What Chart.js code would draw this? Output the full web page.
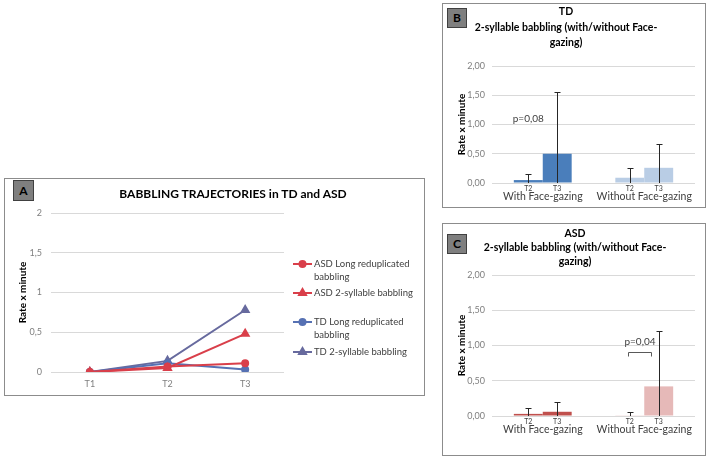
<!DOCTYPE html>
<html>
<head>
<meta charset="utf-8">
<script src="https://cdn.jsdelivr.net/npm/chart.js@4"></script>
<style>
  body { margin: 0; width: 708px; height: 461px; background: #fff; position: relative; overflow: hidden; font-family: Lato, sans-serif; }
  .panel { position: absolute; border: 1px solid #8c8c8c; box-sizing: border-box; }
  .tag { position: absolute; background: #7f7f7f; border: 1px solid #404040; box-sizing: border-box; color: #000;
         font: bold 12px Lato, sans-serif; text-align: center; }
  .title { position: absolute; text-align: center; font-weight: bold; color: #000; white-space: nowrap; }
  canvas { position: absolute; }
</style>
</head>
<body>
<div class="panel" style="left:4px;top:178px;width:421px;height:218px;"></div>
<div class="panel" style="left:442px;top:3px;width:264px;height:205px;"></div>
<div class="panel" style="left:442px;top:223px;width:264px;height:233px;"></div>

<canvas id="chartA" width="418" height="215" style="left:5px;top:179px;"></canvas>
<canvas id="chartB" width="261" height="202" style="left:443px;top:4px;"></canvas>
<canvas id="chartC" width="261" height="230" style="left:443px;top:224px;"></canvas>

<div class="tag" style="left:13px;top:180px;width:21px;height:21px;line-height:19px;">A</div>
<div class="tag" style="left:447px;top:8px;width:20px;height:20px;line-height:18px;">B</div>
<div class="tag" style="left:447px;top:234px;width:20px;height:20px;line-height:18px;">C</div>

<div class="title" style="left:33px;width:400px;top:186px;font-size:12px;line-height:16px;">BABBLING TRAJECTORIES in TD and ASD</div>
<div class="title" style="left:416px;width:300px;top:4px;font-size:10.5px;line-height:15.5px;">TD<br>2-syllable babbling (with/without Face-<br>gazing)</div>
<div class="title" style="left:425px;width:300px;top:226px;font-size:10.5px;line-height:14px;">ASD<br>2-syllable babbling (with/without Face-<br>gazing)</div>

<script>
// panel A: babbling trajectories
const timePoints = ['T1', 'T2', 'T3'];
const asdLongRedup = [0, 0.07, 0.11];
const asdTwoSyll = [0, 0.05, 0.48];
const tdLongRedup = [0, 0.11, 0.03];
const tdTwoSyll = [0, 0.14, 0.78];
const trajectoryNames = [
    'ASD Long reduplicated babbling',
    'ASD 2-syllable babbling',
    'TD Long reduplicated babbling',
    'TD 2-syllable babbling'
];
const yTicksA = ['0', '0,5', '1', '1,5', '2'];

// panels B and C: 2-syllable babbling with / without face-gazing
const gazeGroups = ['With Face-gazing', 'Without Face-gazing'];
const sessions = ['T2', 'T3'];
const tdT2 = [0.05, 0.09];
const tdT3 = [0.50, 0.26];
const tdT2Err = [0.10, 0.17];
const tdT3Err = [1.06, 0.40];
const asdT2 = [0.03, 0.01];
const asdT3 = [0.06, 0.42];
const asdT2Err = [0.09, 0.05];
const asdT3Err = [0.14, 0.78];
const yTicksBC = ['0,00', '0,50', '1,00', '1,50', '2,00'];

const gridColor = '#d9d9d9';
const tickColor = '#7f7f7f';
const textColor = '#404040';

// legend drawn by hand so the long labels can wrap like the original
const lineLegend = {
    id: 'lineLegend',
    afterDraw(chart, args, opts) {
        const ctx = chart.ctx;
        ctx.save();
        ctx.font = opts.font;
        ctx.textBaseline = 'middle';
        chart.data.datasets.forEach((ds, i) => {
            const y = opts.rows[i];
            ctx.strokeStyle = ds.borderColor;
            ctx.fillStyle = ds.borderColor;
            ctx.lineWidth = 2;
            ctx.beginPath();
            ctx.moveTo(opts.x, y);
            ctx.lineTo(opts.x + opts.lineLen, y);
            ctx.stroke();
            Chart.helpers.drawPoint(ctx, {
                pointStyle: ds.pointStyle, radius: ds.pointRadius, rotation: 0, borderWidth: 1
            }, opts.x + opts.lineLen / 2, y);

            // word wrap
            ctx.fillStyle = textColor;
            const words = ds.label.split(' ');
            let line = '';
            let ly = y;
            words.forEach(w => {
                const test = line ? line + ' ' + w : w;
                if (ctx.measureText(test).width > opts.maxWidth && line) {
                    ctx.fillText(line, opts.x + opts.lineLen + 2, ly);
                    line = w;
                    ly += opts.lineHeight;
                } else {
                    line = test;
                }
            });
            ctx.fillText(line, opts.x + opts.lineLen + 2, ly);
        });
        ctx.restore();
    }
};

// error bars, T2/T3 sub-labels and p-value notes for the bar panels
const barExtras = {
    id: 'barExtras',
    afterDatasetsDraw(chart, args, opts) {
        const ctx = chart.ctx;
        const y = chart.scales.y;
        const area = chart.chartArea;
        ctx.save();
        ctx.strokeStyle = '#262626';
        ctx.lineWidth = 1;
        chart.data.datasets.forEach((ds, di) => {
            const meta = chart.getDatasetMeta(di);
            meta.data.forEach((bar, i) => {
                const v = ds.data[i];
                const e = opts.errors[di][i];
                const top = Math.round(y.getPixelForValue(v + e)) + 0.5;
                const bot = y.getPixelForValue(Math.max(0, v - e));
                const x = Math.round(bar.x) + 0.5;
                ctx.beginPath();
                ctx.moveTo(x, bot);
                ctx.lineTo(x, top);
                ctx.moveTo(x - 3, top);
                ctx.lineTo(x + 3, top);
                ctx.stroke();

                ctx.fillStyle = textColor;
                ctx.font = '7px Lato, sans-serif';
                ctx.textAlign = 'center';
                ctx.textBaseline = 'middle';
                ctx.fillText(sessions[di], bar.x, area.bottom + opts.subOffset);
            });
        });

        const note = opts.note;
        if (note) {
            const b0 = chart.getDatasetMeta(0).data[note.group];
            const b1 = chart.getDatasetMeta(1).data[note.group];
            ctx.fillStyle = textColor;
            ctx.font = '10px Lato, sans-serif';
            ctx.textAlign = 'center';
            ctx.textBaseline = 'middle';
            let cx = b0.x;
            if (note.bracket !== undefined) {
                const x0 = Math.round(b0.x - 2) + 0.5;
                const x1 = Math.round(b1.x - 8) + 0.5;
                const by = Math.round(y.getPixelForValue(note.bracket)) + 0.5;
                ctx.strokeStyle = '#595959';
                ctx.beginPath();
                ctx.moveTo(x0, by + 4);
                ctx.lineTo(x0, by);
                ctx.lineTo(x1, by);
                ctx.lineTo(x1, by + 4);
                ctx.stroke();
                cx = (x0 + x1) / 2;
            }
            ctx.fillText(note.text, cx, y.getPixelForValue(note.value));
        }
        ctx.restore();
    }
};

const lineSeries = [
    { data: asdLongRedup, color: '#d93f4a', style: 'circle', r: 3 },
    { data: asdTwoSyll, color: '#d93f4a', style: 'triangle', r: 4 },
    { data: tdLongRedup, color: '#5671b3', style: 'circle', r: 3 },
    { data: tdTwoSyll, color: '#676a9e', style: 'triangle', r: 4 }
];

new Chart(document.getElementById('chartA'), {
    type: 'line',
    data: {
        labels: timePoints,
        datasets: lineSeries.map((s, i) => ({
            label: trajectoryNames[i],
            data: s.data,
            borderColor: s.color,
            backgroundColor: s.color,
            pointBackgroundColor: s.color,
            pointBorderColor: s.color,
            pointStyle: s.style,
            pointRadius: s.r,
            borderWidth: 2,
            tension: 0
        }))
    },
    options: {
        responsive: false,
        animation: false,
        layout: { padding: { left: 0, top: 34, right: 139, bottom: 0 } },
        plugins: {
            legend: { display: false },
            tooltip: { enabled: false },
            lineLegend: {
                x: 288, lineLen: 19, rows: [85, 114, 143, 173], lineHeight: 12.5,
                maxWidth: 100, font: '9.5px Lato, sans-serif'
            }
        },
        scales: {
            x: {
                offset: true,
                grid: { display: false, drawTicks: false },
                border: { display: false },
                ticks: { color: tickColor, font: { family: 'Lato', size: 9 }, padding: 7 },
                afterFit: s => { s.height = 22; }
            },
            y: {
                min: 0,
                max: 2,
                ticks: {
                    stepSize: 0.5,
                    color: tickColor,
                    font: { family: 'Lato', size: 9 },
                    padding: 9,
                    callback: (v, i) => yTicksA[i]
                },
                grid: { color: gridColor, drawTicks: false },
                border: { display: false },
                title: {
                    display: true, text: 'Rate x minute', color: '#000',
                    font: { family: 'Lato', size: 10, weight: 'bold' },
                    padding: { top: 12, bottom: 0 }
                },
                afterFit: s => { s.width = 46; }
            }
        }
    },
    plugins: [lineLegend]
});

function gazeChart(id, t2, t3, errs, darkColor, lightColor, padTop, xHeight, note) {
    return new Chart(document.getElementById(id), {
        type: 'bar',
        data: {
            labels: gazeGroups,
            datasets: [
                { label: sessions[0], data: t2, backgroundColor: [darkColor, lightColor], borderWidth: 0 },
                { label: sessions[1], data: t3, backgroundColor: [darkColor, lightColor], borderWidth: 0 }
            ]
        },
        options: {
            responsive: false,
            animation: false,
            datasets: { bar: { categoryPercentage: 0.57, barPercentage: 1 } },
            layout: { padding: { left: 0, top: padTop, right: 9, bottom: 0 } },
            plugins: {
                legend: { display: false },
                tooltip: { enabled: false },
                barExtras: { errors: errs, subOffset: 5.5, note: note }
            },
            scales: {
                x: {
                    grid: { display: false, drawTicks: false },
                    border: { display: false },
                    ticks: { color: textColor, font: { family: 'Lato', size: 10.5 }, padding: 7 },
                    afterFit: s => { s.height = xHeight; }
                },
                y: {
                    min: 0,
                    max: 2,
                    ticks: {
                        stepSize: 0.5,
                        color: tickColor,
                        font: { family: 'Lato', size: 9 },
                        padding: 7,
                        callback: (v, i) => yTicksBC[i]
                    },
                    grid: { color: gridColor, drawTicks: false },
                    border: { display: false },
                    title: {
                        display: true, text: 'Rate x minute', color: '#000',
                        font: { family: 'Lato', size: 10, weight: 'bold' },
                        padding: { top: 13, bottom: 0 }
                    },
                    afterFit: s => { s.width = 49; }
                }
            }
        },
        plugins: [barExtras]
    });
}

gazeChart('chartB', tdT2, tdT3, [tdT2Err, tdT3Err], '#4a7ebb', '#b9cde5', 62, 23,
    { text: 'p=0,08', group: 0, value: 1.09 });
gazeChart('chartC', asdT2, asdT3, [asdT2Err, asdT3Err], '#c0504d', '#e6b9b8', 51, 38,
    { text: 'p=0,04', group: 1, value: 1.05, bracket: 0.91 });
</script>
</body>
</html>
